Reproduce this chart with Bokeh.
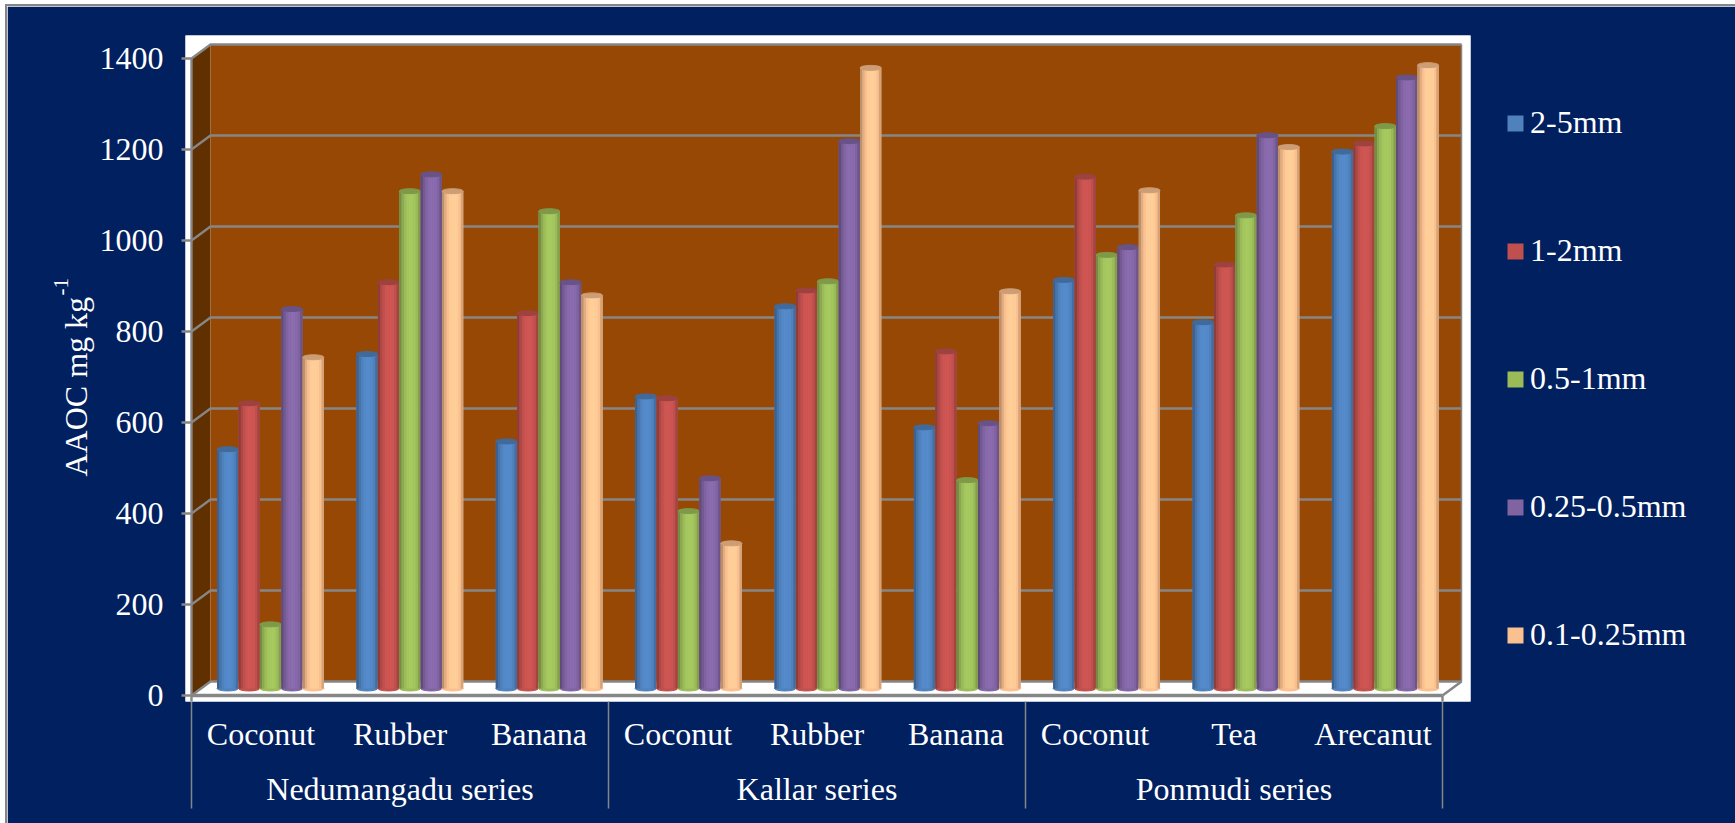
from bokeh.embed import file_html
from bokeh.resources import INLINE
from bokeh.models import (ColumnDataSource, FixedTicker, Legend, LegendItem,
                          LinearAxis, Range1d, Title)
from bokeh.plotting import figure

series_names = ["Nedumangadu series", "Kallar series", "Ponmudi series"]
crops = ["Coconut", "Rubber", "Banana", "Coconut", "Rubber", "Banana", "Coconut", "Tea", "Arecanut"]
size_classes = ["2-5mm", "1-2mm", "0.5-1mm", "0.25-0.5mm", "0.1-0.25mm"]
y_ticks = [0, 200, 400, 600, 800, 1000, 1200, 1400]

aaoc_2_5 = [526, 735, 543, 642, 840, 574, 898, 805, 1180]
aaoc_1_2 = [627, 893, 825, 638, 875, 741, 1125, 932, 1198]
aaoc_05_1 = [141, 1093, 1049, 390, 895, 458, 953, 1040, 1236]
aaoc_025_05 = [834, 1130, 893, 462, 1203, 583, 970, 1216, 1343]
aaoc_01_025 = [728, 1093, 864, 319, 1364, 873, 1095, 1190, 1370]
all_values = [aaoc_2_5, aaoc_1_2, aaoc_05_1, aaoc_025_05, aaoc_01_025]

colors = ["#4F81BD", "#C0504D", "#9BBB59", "#8064A2", "#FAC08F"]
NAVY = "#00205F"
WALL = "#964804"
SIDE_WALL = "#613000"
GRID = "#868686"
FONT = "Liberation Serif"

# Chart scale: pixels per category and per AAOC unit
PX_X = 139.0
PX_Y = 0.455
N = len(crops)
DEPTH_X = 19.0 / PX_X
DEPTH_Y = 14.0 / PX_Y
TOP = y_ticks[-1]

FRAME_W, FRAME_H = 1285, 666
p = figure(width=1721, height=817, frame_width=FRAME_W, frame_height=FRAME_H,
           output_backend="svg", toolbar_location=None,
           x_range=Range1d(-6 / PX_X, (FRAME_W - 6) / PX_X),
           y_range=Range1d(-6 / PX_Y, (FRAME_H - 6) / PX_Y),
           x_axis_type=None, y_axis_type=None,
           min_border_left=178, min_border_top=29, min_border_right=258, min_border_bottom=122,
           background_fill_color="white", border_fill_color=NAVY, outline_line_color=None,
           margin=(6, 0, 0, 7), styles={"outline": f"2px solid {GRID}"})
p.grid.visible = False

# Box walls and floor
p.patch([0, DEPTH_X, DEPTH_X, 0], [0, DEPTH_Y, TOP + DEPTH_Y, TOP], color=SIDE_WALL, line_width=0)
p.patch([DEPTH_X, N + DEPTH_X, N + DEPTH_X, DEPTH_X], [DEPTH_Y, DEPTH_Y, TOP + DEPTH_Y, TOP + DEPTH_Y],
        color=WALL, line_width=0)

# Gridlines run along the back wall and step forward along the side wall
p.multi_line([[0, DEPTH_X, N + DEPTH_X] for _ in y_ticks],
             [[t, t + DEPTH_Y, t + DEPTH_Y] for t in y_ticks], line_color=GRID, line_width=2.4)
p.segment([N + DEPTH_X], [DEPTH_Y], [N + DEPTH_X], [TOP + DEPTH_Y], line_color=GRID, line_width=1.5)
p.segment([0, 0, N], [-6 / PX_Y, 0, -6 / PX_Y], [0, 0, N], [0, TOP, 0], line_color=GRID, line_width=2.4)
p.segment([0, N], [0, 0], [N, N + DEPTH_X], [0, DEPTH_Y], line_color=GRID, line_width=[3.5, 2.5])


def shade(hex_color, factor):
    rgb = [int(hex_color[i:i + 2], 16) for i in (1, 3, 5)]
    return "#" + "".join(f"{min(255, round(c * factor)):02x}" for c in rgb)


# Cylinders: each bar is a base column with vertical bands of shading and elliptical caps
SLOT = 21.4 / PX_X
PITCH = 1.0025
bands = [0.75, 0.90, 1.0, 1.06, 1.08, 1.08, 1.06, 1.0, 0.85]
bar_w = SLOT * 0.99
band_w = bar_w / len(bands)
CAP_H = 5.0 / PX_Y
legend_items = []
for s, (values, name, color) in enumerate(zip(all_values, size_classes, colors)):
    xs = [g * PITCH + 0.5 + DEPTH_X / 2 + (s - 2) * SLOT for g in range(N)]
    floor = DEPTH_Y / 2
    tops = [v + floor for v in values]
    src = ColumnDataSource(dict(x=xs, top=tops, bottom=[floor] * N))
    p.ellipse("x", "bottom", width=bar_w, height=CAP_H, source=src, color=shade(color, 1.0))
    base = p.vbar("x", bar_w, "top", "bottom", source=src, fill_color=color, line_color=None)
    legend_items.append(LegendItem(label=name, renderers=[base]))
    for b, factor in enumerate(bands):
        offset = (b - (len(bands) - 1) / 2) * band_w
        p.vbar([x + offset for x in xs], band_w * 1.05, tops, floor,
               fill_color=shade(color, factor), line_color=None)
    p.ellipse("x", "top", width=bar_w, height=CAP_H, source=src, color=shade(color, 0.82))

# Value axis
y_axis = LinearAxis(ticker=FixedTicker(ticks=y_ticks, minor_ticks=[]))
y_axis.axis_line_color = None
y_axis.major_tick_in = 6
y_axis.major_tick_out = 4
y_axis.major_tick_line_color = GRID
y_axis.major_tick_line_width = 2.4
y_axis.major_label_standoff = 18
y_axis.major_label_text_color = "white"
y_axis.major_label_text_font = FONT
y_axis.major_label_text_font_size = "32px"
p.add_layout(y_axis, "left")

# Axis title in two parts so the exponent can sit raised and smaller
p.add_layout(Title(text="AAOC mg kg", align="left", offset=225, standoff=6, text_color="white",
                   text_font=FONT, text_font_size="32px", text_font_style="normal"), "left")
p.add_layout(Title(text="-1", align="left", offset=406, standoff=-31, text_color="white",
                   text_font=FONT, text_font_size="21px", text_font_style="normal"), "left")

# Crop names, with the series separators as long minor ticks; the negative
# standoff brings the labels back up alongside those ticks
SEPARATOR_LEN = 107
crop_axis = LinearAxis(ticker=FixedTicker(ticks=[i + 0.5 for i in range(N)], minor_ticks=[0, 3, 6, 9]),
                       major_label_overrides={i + 0.5: c for i, c in enumerate(crops)})
crop_axis.axis_line_color = None
crop_axis.major_tick_line_color = None
crop_axis.major_tick_in = 0
crop_axis.major_tick_out = 0
crop_axis.minor_tick_line_color = GRID
crop_axis.minor_tick_line_width = 1.5
crop_axis.minor_tick_in = 0
crop_axis.minor_tick_out = SEPARATOR_LEN
crop_axis.major_label_standoff = 14 - SEPARATOR_LEN
crop_axis.major_label_text_color = "white"
crop_axis.major_label_text_font = FONT
crop_axis.major_label_text_font_size = "32px"
p.add_layout(crop_axis, "below")

group_axis = LinearAxis(ticker=FixedTicker(ticks=[1.5, 4.5, 7.5], minor_ticks=[]),
                        major_label_overrides={1.5 + 3 * i: n for i, n in enumerate(series_names)})
group_axis.axis_line_color = None
group_axis.major_tick_line_color = None
group_axis.major_tick_in = 0
group_axis.major_tick_out = 0
group_axis.major_label_standoff = 16
group_axis.major_label_text_color = "white"
group_axis.major_label_text_font = FONT
group_axis.major_label_text_font_size = "32px"
p.add_layout(group_axis, "below")

legend = Legend(items=legend_items, location=(35, 48), orientation="vertical",
                glyph_width=20, glyph_height=20, label_standoff=5, spacing=91,
                padding=0, margin=0, border_line_color=None, background_fill_color=None,
                background_fill_alpha=0,
                label_text_color="white", label_text_font=FONT, label_text_font_size="32px")
p.add_layout(legend, "right")

open("out.html", "w").write(file_html(p, INLINE))
